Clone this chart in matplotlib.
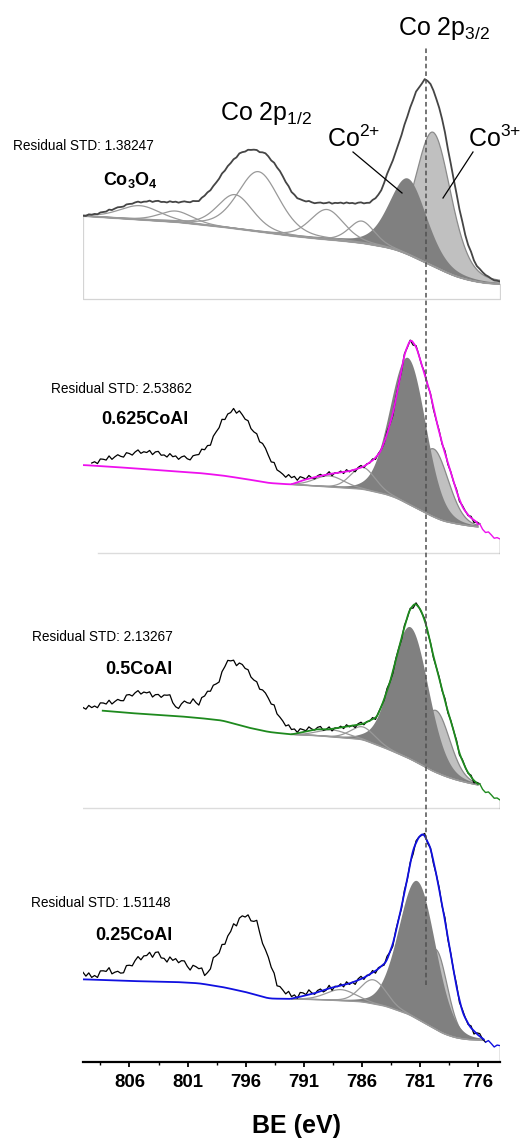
import numpy as np
import matplotlib
matplotlib.use('Agg')
import matplotlib.pyplot as plt
from matplotlib.lines import Line2D

plt.rcParams['font.family'] = ['Liberation Sans', 'DejaVu Sans']
plt.rcParams['mathtext.fontset'] = 'custom'
plt.rcParams['mathtext.rm'] = 'Liberation Sans'
plt.rcParams['mathtext.it'] = 'Liberation Sans:italic'
plt.rcParams['mathtext.bf'] = 'Liberation Sans:bold'

W, H, DPI = 523, 1142, 100

# ---------------- data (binding energy in eV, intensity in arbitrary units) ----------------
major_ticks = [806, 801, 796, 791, 786, 781, 776]
minor_ticks = [808.5, 803.5, 798.5, 793.5, 788.5, 783.5, 778.5]
REF_BE = 780.5

samples = ["$\\mathbf{Co_3O_4}$", "0.625CoAl", "0.5CoAl", "0.25CoAl"]
residual_std = ["1.38247", "2.53862", "2.13267", "1.51148"]

# Shirley-type backgrounds
bg_E = [810, 806, 802, 800, 798, 796, 794, 792, 790, 788, 786, 784, 783, 782, 781, 780, 779, 778, 777, 776, 775, 774]
bg1_I = [83, 80, 77, 74.5, 72, 69, 66, 63, 60.5, 58.5, 56, 52, 49, 44.5, 39, 33.5, 28, 23, 19.5, 17, 15.5, 15]
bg2_I = [88, 85, 81.5, 80, 77.5, 74, 70, 68.5, 67, 65.5, 64, 59, 55, 49, 43, 37, 32, 29.5, 27.5, 26, 25.5, 25]
bg3_I = [99, 95, 92, 90, 87.5, 81, 76, 73.5, 72.5, 70.5, 68.7, 60, 55, 50, 44, 37.5, 32.5, 28.5, 25.5, 23, 22, 21.5]
bg4_I = [82.7, 81, 80, 78.7, 75, 70, 63.5, 63, 62.5, 61.5, 60.3, 56, 52, 48, 41.5, 35, 28.5, 24.5, 22.5, 22, 21.5, 21]

# fitted components: (centre eV, height, FWHM eV, Lorentz fraction)
co3_1 = (779.85, 134, 3.6, 0.3)
co2_1 = (782.0, 76, 3.8, 0.3)
other_1 = [(786.0, 22, 2.6, 0.3), (789.0, 30, 3.4, 0.3), (794.9, 60, 4.2, 0.3),
           (796.9, 34, 3.6, 0.3), (802.0, 11, 3.4, 0.3), (805.1, 14, 4.2, 0.3)]
co3_2 = (779.8, 68, 3.0, 0.1)
co2_2 = (782.0, 146, 3.6, 0.1)
other_2 = [(785.9, 22, 2.5, 0.1), (788.8, 11, 3.0, 0.1)]
co3_3 = (779.6, 62, 2.8, 0.1)
co2_3 = (781.8, 132, 3.7, 0.1)
other_3 = [(785.9, 13, 2.5, 0.1), (788.5, 7, 3.0, 0.1)]
co3_4 = (779.6, 80, 2.3, 0.1)
co2_4 = (781.2, 138, 3.7, 0.1)
other_4 = [(785.0, 24, 2.6, 0.1), (787.8, 11, 3.0, 0.1)]

# Co3O4 measured spectrum (whole range)
meas1_E = [810, 808.5, 807.1, 805.7, 804.2, 802.8, 801.4, 800, 798.8, 797.6, 796.5, 795.4, 794.2, 793.1,
           792.0, 791.3, 789.9, 788.5, 787.0, 785.3, 784.4, 783.9, 783.0, 782.1, 781.4, 780.5, 779.9,
           779.1, 778.4, 777.7, 777.0, 776.1, 775.0, 774.1]
meas1_I = [83, 86, 91, 96, 98, 97, 97, 98, 112, 132, 146, 150, 145, 129,
           106, 99, 96, 96, 96, 96, 106, 122, 149, 182, 206, 221, 212,
           182, 139, 96, 59, 32, 21, 17]

# fit envelopes over the fitted range
env2_E = [792, 791, 790, 788.8, 787, 785.9, 785, 784.4, 783.9, 783.3, 782.7, 782.3, 781.8, 781.3,
          780.7, 780.1, 779.6, 779.0, 778.4, 777.8, 777.3, 776.7, 776.0]
env2_I = [69, 73, 76, 79, 82, 86, 93, 101, 116, 140, 176, 200, 214, 206,
          183, 160, 133, 106, 83, 60, 45, 36, 30]
env3_E = [792, 791, 789.9, 788.8, 787, 785.9, 784.7, 784.2, 783.6, 783.0, 782.4, 781.9, 781.4, 780.9,
          780.4, 779.9, 779.3, 778.7, 778.1, 777.6, 777.0, 776.4, 776.0]
env3_I = [73.7, 76, 78.7, 78.7, 82, 84, 91, 104.7, 124.7, 151, 178, 198, 205, 198,
          181, 155, 128, 101, 78, 54.7, 38, 28, 24]
env4_E = [792.2, 791.3, 790, 788.8, 787, 785.9, 784.7, 783.9, 783.3, 782.7, 782.1, 781.6, 781.1, 780.7,
          780.1, 779.6, 779.0, 778.4, 777.8, 777.3, 776.7, 776.0, 775.5]
env4_I = [63, 65.3, 69, 73.7, 78.7, 83.7, 92, 100, 118.7, 148.7, 182, 212, 225, 228.7,
          215, 188.7, 152, 112, 72, 48.7, 35.3, 27, 22.7]

# measured spectra outside the fitted range
raw2_E = [809.5, 809, 808, 807, 806, 805, 804, 803, 802, 801, 800.5, 800, 799.5, 799, 798.5, 798, 797.5,
          797, 796.5, 796, 795.5, 795, 794.5, 794, 793.5, 793, 792.5, 792, 791.5, 791, 790]
raw2_I = [90, 91, 94, 97, 99, 101, 101, 98, 96, 95, 96, 100, 104, 110, 122, 132, 139,
          143, 141, 134, 125, 117, 108, 97, 87, 80, 77, 76, 75, 75, 76]
raw3_E = [810, 809.2, 808.2, 807.4, 806.6, 806, 805.3, 804.6, 803.4, 802.7, 802.0, 801.4, 800.5, 800.1,
          799.4, 798.8, 798.2, 797.7, 797.4, 796.8, 796.2, 795.7, 794.8, 793.9, 793.1, 792.5, 791.9,
          791.1, 790.2, 789.5]
raw3_I = [99.7, 101, 104.7, 106, 108.7, 113, 114.7, 116, 111, 114.7, 99.7, 104.7, 108, 103,
          114.7, 121, 128, 146, 148, 144.7, 143, 134.7, 121, 108, 91, 83, 78, 78, 79.7, 80]
raw4_E = [810, 809.2, 808, 806.9, 805.7, 804.6, 803.7, 802.8, 801.7, 800.8, 800, 799.4, 798.8, 798,
          797.1, 796.2, 795.4, 794.9, 794.5, 793.9, 793.4, 792.8, 791.9, 791.1, 789.9, 789]
raw4_I = [88.7, 85, 92, 88.7, 98.7, 107, 108.7, 102, 102, 95, 95, 85, 102, 115,
          135, 147, 142, 138.7, 115, 102, 78.7, 72, 65.3, 68.7, 70.3, 72]
tail2_E = [776, 775.5, 775, 774.5, 774.1]
tail2_I = [29, 23, 19, 16, 13]
tail3_E = [776, 775.5, 775, 774.5, 774.1]
tail3_I = [24, 18, 14, 11, 7]
tail4_E = [775.5, 775, 774.5, 774.1]
tail4_I = [22.7, 19, 17, 15]

# hand-typed noise pattern of the measured spectra
JITTER = [0.3, -0.5, 0.8, -0.2, 0.1, -0.9, 0.6, 0.2, -0.4, 0.9,
          -0.7, 0.0, 0.5, -0.3, -0.8, 0.7, 0.2, -0.6, 0.4, 1.0,
          -0.5, 0.1, -0.2, 0.6, -1.0, 0.3, 0.8, -0.4, 0.0, -0.6,
          0.9, -0.1, 0.4, -0.8, 0.2, 0.7, -0.3, -0.9, 0.5, 0.1,
          -0.5, 0.8, -0.2, 0.3, -0.7, 0.6, 0.0, -0.4, 0.9, -0.6,
          0.2, -0.1, 0.7, -0.9, 0.4, 0.1, -0.3, 0.8, -0.5, -0.2,
          0.6, -0.8, 0.3, 0.5, -0.1, -0.7, 1.0, -0.4, 0.2, 0.0,
          -0.6, 0.7, -0.3, 0.4, -0.9, 0.5, 0.1, -0.5, 0.8, -0.2,
          -0.7, 0.3, 0.6, -0.4, 0.0, 0.9, -0.8, 0.2, -0.1, 0.5,
          -0.6, 0.7, -0.3, 0.1, -0.9, 0.4, 0.8, -0.5, 0.2, -0.2,
          0.6, -0.7, 0.3, 0.0, -0.4, 0.9, -0.1, -0.8, 0.5, 0.2,
          -0.6, 0.7, -0.3, 0.4, -1.0, 0.6, 0.1, -0.2, 0.8, -0.5,
          0.3, -0.7, 0.0, 0.5, -0.4, 0.9, -0.6, 0.2, -0.1, 0.7,
          -0.8, 0.4, 0.1, -0.3, 0.6, -0.9, 0.3, 0.8, -0.2, -0.5,
          0.5, 0.0, -0.7, 0.2, 0.4, -0.3, 0.6, -0.1, -0.8, 0.3]

# ---------------- layout / style ----------------
XL, XR = 810.0, 774.1
offsets = [763, 509, 254, 0]
env_colors = ['#454545', '#ee10ee', '#1e8a1e', '#1010e0']
DARK, LIGHT, COMP = '#808080', '#c0c0c0', '#999999'


def pv(E, p):
    c, h, w, m = p
    d2 = 4 * (E - c) ** 2 / w ** 2
    return h * ((1 - m) * np.exp(-np.log(2) * d2) + m / (1 + d2))


def smooth(y, n=15):
    pad = n // 2
    return np.convolve(np.pad(y, pad, mode='edge'), np.ones(n) / n, mode='valid')


def interp_desc(x, xp, fp):
    return np.interp(x, np.asarray(xp)[::-1], np.asarray(fp)[::-1])


E = np.arange(XL, XR - 1e-9, -0.05)
Er = np.linspace(XL, XR, 145)
jit = np.array(JITTER[:len(Er)])

fig = plt.figure(figsize=(W / DPI, H / DPI), dpi=DPI)
ax = fig.add_axes([83 / W, (H - 1062) / H, 417 / W, 1052 / H])
ax.set_xlim(XL, XR)
ax.set_ylim(0, 1052)


def fp(x, y):
    return (x / W, 1 - y / H)


panels = [
    dict(bg=bg1_I, co3=co3_1, co2=co2_1, other=other_1, env=(meas1_E, meas1_I), raw=None, tail=None,
         fit=(810, XR), env_start=810, amp=0.8),
    dict(bg=bg2_I, co3=co3_2, co2=co2_2, other=other_2, env=(env2_E, env2_I), raw=(raw2_E, raw2_I),
         tail=(tail2_E, tail2_I), fit=(792, 776.0), env_start=810, amp=2.6),
    dict(bg=bg3_I, co3=co3_3, co2=co2_3, other=other_3, env=(env3_E, env3_I), raw=(raw3_E, raw3_I),
         tail=(tail3_E, tail3_I), fit=(792, 776.0), env_start=808.3, amp=2.6),
    dict(bg=bg4_I, co3=co3_4, co2=co2_4, other=other_4, env=(env4_E, env4_I), raw=(raw4_E, raw4_I),
         tail=(tail4_E, tail4_I), fit=(792, 775.5), env_start=810, amp=3.4),
]

for i, P in enumerate(panels):
    off = offsets[i]
    col = env_colors[i]
    bg = smooth(interp_desc(E, bg_E, P['bg']), 17)
    g3, g2 = pv(E, P['co3']), pv(E, P['co2'])
    others = [pv(E, p) for p in P['other']]
    eE, eI = P['env']
    env = np.where((E <= eE[0]) & (E >= eE[-1]), interp_desc(E, eE, eI), bg)
    env = smooth(env, 7)
    fs, fe = P['fit']
    m = (E <= fs + 1e-9) & (E >= fe - 1e-9)

    if i == 0:
        ax.fill_between(E, off, off + bg, facecolor='white', edgecolor='#d4d4d4', lw=0.9, zorder=1)
    else:
        ax.plot([XL - 1.3 if i == 1 else XL, XR], [off, off], color='#dcdcdc', lw=1.0, zorder=1)

    # components
    ax.fill_between(E[m], off + bg[m], off + bg[m] + g3[m], facecolor=LIGHT, lw=0, zorder=2)
    ax.plot(E[m], off + bg[m] + g3[m], color='#8a8a8a', lw=0.9, zorder=2)
    ax.fill_between(E[m], off + bg[m], off + bg[m] + g2[m], facecolor=DARK, lw=0, zorder=3)
    for g in others:
        ax.plot(E[m], off + bg[m] + g[m], color=COMP, lw=0.9, zorder=3)
    ax.plot(E[m], off + bg[m], color='#999999', lw=1.0, zorder=3)

    envr = np.interp(Er[::-1], E[::-1], env[::-1])[::-1]
    if P['raw'] is None:
        rawr = envr + P['amp'] * jit
        ax.plot(Er, off + rawr, color=col, lw=1.3, zorder=5)
    else:
        rE, rI = P['raw']
        tE, tI = P['tail']
        hi, lo = rE[-1], tE[0]
        trend = np.where(Er >= hi, interp_desc(Er, rE, rI),
                         np.where(Er <= lo, interp_desc(Er, tE, tI), envr))
        rawr = trend + P['amp'] * jit
        mb = (Er <= rE[0] + 1e-9) & (Er >= lo - 0.25)
        ax.plot(Er[mb], off + rawr[mb], color='black', lw=0.9, zorder=4)
        mt = Er <= lo + 1e-9
        ax.plot(Er[mt], off + rawr[mt], color=col, lw=1.0, zorder=5)
        me = (E <= P['env_start'] + 1e-9) & (E >= lo - 1e-9)
        ax.plot(E[me], off + env[me], color=col, lw=1.3, zorder=5)
        ax.plot([XR, XR], [off, off + tI[-1]], color='#808080', lw=1.0, zorder=1)

# reference dashed line at Co 2p3/2 position
ax.plot([REF_BE, REF_BE], [1062 - 985, 1062 - 47], color='#505050', lw=1.1, dashes=(3, 2), zorder=6)

# axes styling
for s in ['left', 'right', 'top']:
    ax.spines[s].set_visible(False)
ax.spines['bottom'].set_linewidth(1.6)
ax.set_yticks([])
ax.set_xticks(major_ticks)
ax.set_xticks(minor_ticks, minor=True)
ax.set_xticklabels([str(t) for t in major_ticks], fontsize=13.4, fontweight='bold')
ax.tick_params(axis='x', which='major', direction='out', length=3.5, width=1.3, pad=5)
ax.tick_params(axis='x', which='minor', direction='out', length=2, width=1.0)
ax.patch.set_alpha(0)

fig.text(*fp(296, 1133), 'BE (eV)', ha='center', va='baseline', fontsize=18, fontweight='bold')

# annotations
res_pos = [(13, 150), (51, 393), (32, 641), (31, 907)]
lab_pos = [(103, 185), (101, 423.5), (105, 673.5), (95, 939.5)]
for i in range(4):
    fig.text(*fp(*res_pos[i]), 'Residual STD: ' + residual_std[i], ha='left', va='baseline', fontsize=9.8)
    fig.text(*fp(*lab_pos[i]), samples[i], ha='left', va='baseline', fontsize=13, fontweight='bold')

fig.text(*fp(398, 35), 'Co 2p$_{\\mathrm{3/2}}$', ha='left', va='baseline', fontsize=18)
fig.text(*fp(220, 120), 'Co 2p$_{\\mathrm{1/2}}$', ha='left', va='baseline', fontsize=18)
fig.text(*fp(327, 147), 'Co$^{2{+}}$', ha='left', va='baseline', fontsize=18)
fig.text(*fp(468, 147), 'Co$^{3{+}}$', ha='left', va='baseline', fontsize=18)
for (x0, y0), (x1, y1) in [((353, 152), (402, 193)), ((473, 152), (443, 198))]:
    a, b = fp(x0, y0)
    c, d = fp(x1, y1)
    fig.add_artist(Line2D([a, c], [b, d], transform=fig.transFigure, color='black', lw=0.9))

fig.savefig('out.png', dpi=DPI)
